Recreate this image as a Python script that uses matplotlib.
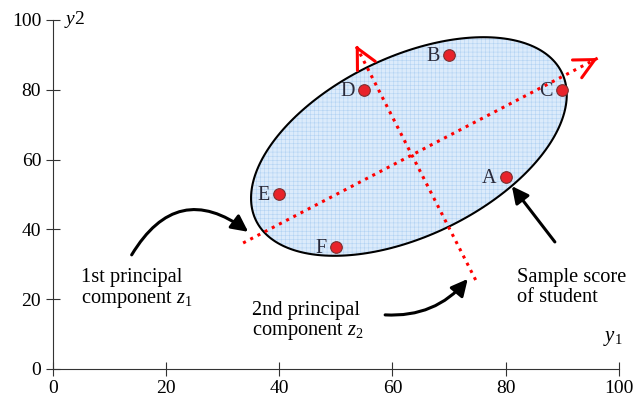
import numpy as np
import matplotlib.pyplot as plt
from matplotlib.patches import Polygon

plt.rcParams['font.family'] = 'Liberation Serif'
plt.rcParams['mathtext.fontset'] = 'custom'
plt.rcParams['mathtext.rm'] = 'Liberation Serif'
plt.rcParams['mathtext.it'] = 'Liberation Serif:italic'
plt.rcParams['hatch.linewidth'] = 0.4

# === datos ===
students = ['A', 'B', 'C', 'D', 'E', 'F']
y1 = [80, 70, 90, 55, 40, 50]
y2 = [55, 90, 80, 80, 50, 35]

ticks = [0, 20, 40, 60, 80, 100]

# elipse: centro y matriz (x = xc + a cos t, y = yc + c cos t + d sin t)
ell_center = (62.9, 63.75)
ell_a = 27.9
ell_c = 14.8
ell_d = 27.6

# componentes principales (inicio, fin)
pc1 = [(33.6, 36.1), (96.3, 89.1)]
pc2 = [(74.7, 25.5), (53.5, 92.8)]

fig = plt.figure(figsize=(6.35, 4.07), dpi=100)
ax = fig.add_axes([0.0835, 0.0934, 0.891, 0.8575])
ax.set_xlim(0, 100)
ax.set_ylim(0, 100)

# elipse
t = np.linspace(0, 2 * np.pi, 240)
ex = ell_center[0] + ell_a * np.cos(t)
ey = ell_center[1] + ell_c * np.cos(t) + ell_d * np.sin(t)
pts = np.column_stack([ex, ey])
ax.add_patch(Polygon(pts, closed=True, facecolor='#dcebfb', edgecolor='#b3d3f3',
                     hatch='++++', lw=0, zorder=1))
ax.add_patch(Polygon(pts, closed=True, fill=False, edgecolor='black', lw=1.5, zorder=2))

# ejes principales
for (x0, y0), (x1, y1e) in [pc1, pc2]:
    ax.plot([x0, x1], [y0, y1e], ls=':', color='red', lw=2.2, zorder=3)
    dx, dy = x1 - x0, y1e - y0
    ax.annotate('', xy=(x1, y1e), xytext=(x1 - dx * 0.015, y1e - dy * 0.015),
                arrowprops=dict(arrowstyle='->', color='red', lw=2.2, mutation_scale=36,
                                shrinkA=0, shrinkB=0),
                zorder=3)

# puntos
ax.scatter(y1, y2, s=70, color='#e8232a', edgecolor='#7a3030', linewidth=0.8, zorder=4)
for name, x, y in zip(students, y1, y2):
    ax.annotate(name, (x, y), xytext=(-7, -1), textcoords='offset points',
                ha='right', va='center', fontsize=14.5, color='#2a2a3a', zorder=5)

# flechas negras
ax.annotate('', xy=(34.5, 39.3), xytext=(13.9, 32.7),
            arrowprops=dict(arrowstyle='-|>', color='black', lw=2.2, mutation_scale=25,
                            connectionstyle='arc3,rad=-0.55', shrinkA=0, shrinkB=0))
ax.annotate('', xy=(73.3, 25.8), xytext=(58.7, 15.5),
            arrowprops=dict(arrowstyle='-|>', color='black', lw=2.2, mutation_scale=25,
                            connectionstyle='arc3,rad=0.25', shrinkA=0, shrinkB=0))
ax.annotate('', xy=(81.1, 52.4), xytext=(88.7, 36.4),
            arrowprops=dict(arrowstyle='-|>', color='black', lw=2.2, mutation_scale=25,
                            shrinkA=0, shrinkB=0))

ax.text(5.0, 28.8, '1st principal\ncomponent $z_1$', fontsize=14.7, va='top', ha='left',
        linespacing=1.1)
ax.text(35.2, 19.6, '2nd principal\ncomponent $z_2$', fontsize=14.7, va='top', ha='left',
        linespacing=1.1)
ax.text(82.0, 29.0, 'Sample score\nof student', fontsize=14.7, va='top', ha='left',
        linespacing=1.1)

# estetica
for s in ['top', 'right']:
    ax.spines[s].set_visible(False)
for s in ['left', 'bottom']:
    ax.spines[s].set_color('#333333')
ax.set_xticks(ticks)
ax.set_yticks(ticks)
ax.tick_params(direction='inout', length=10, labelsize=14, color='#333333')
ax.tick_params(axis='x', pad=3)
ax.text(2.0, 100, '$y$2', fontsize=14, ha='left', va='center')
ax.text(99, 6, '$y_1$', fontsize=15, ha='center', va='bottom')

fig.savefig('out.png', dpi=100)
